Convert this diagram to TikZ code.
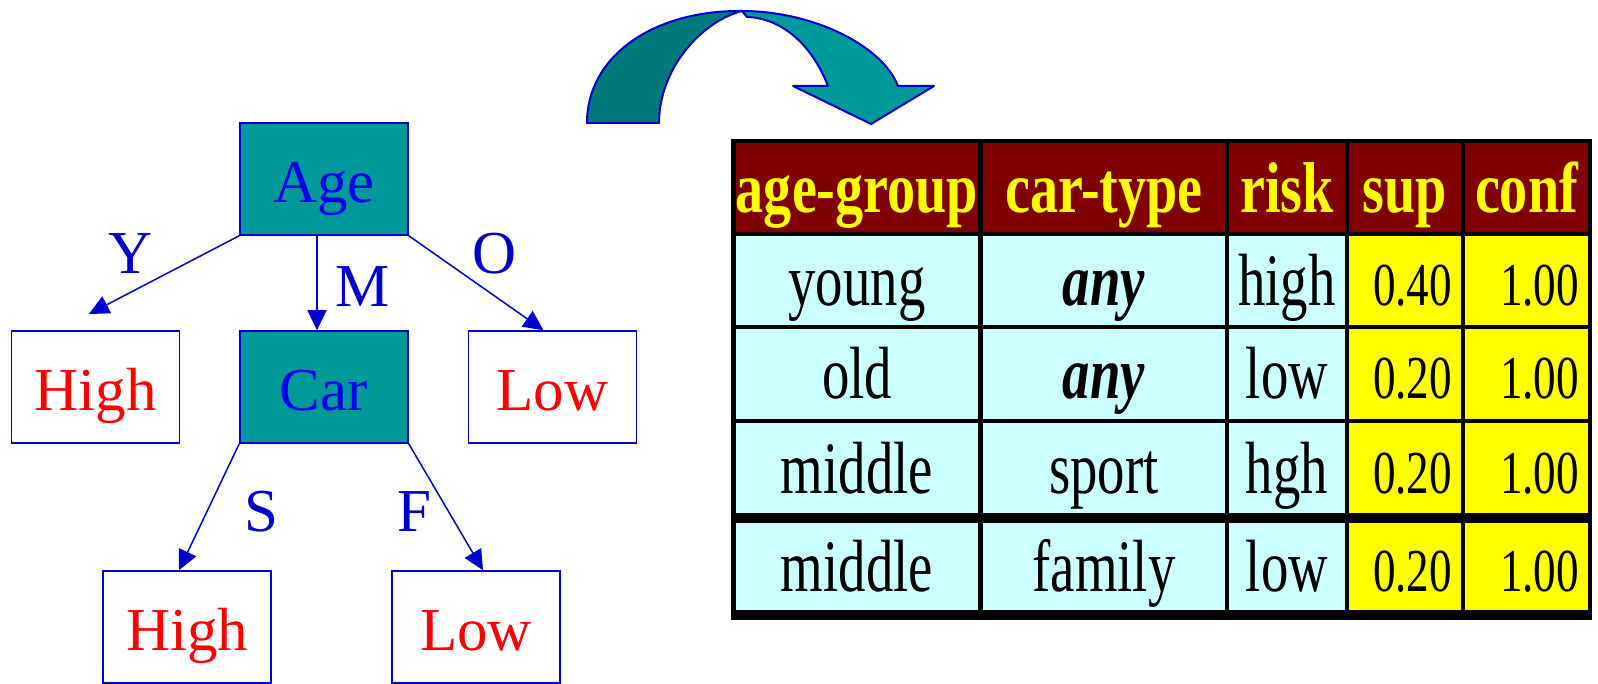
\documentclass[tikz,border=0pt]{standalone}
\usepackage{fontspec}
\setmainfont{Liberation Serif}
\newfontfamily\bodyfont[FakeStretch=0.74]{Liberation Serif}
\newfontfamily\hdrfont[FakeStretch=0.78]{Liberation Serif}
\usetikzlibrary{arrows.meta}
\definecolor{teallight}{RGB}{0,153,153}
\definecolor{tealdark}{RGB}{0,122,122}
\definecolor{tblue}{RGB}{0,0,204}
\definecolor{tblue2}{RGB}{0,0,235}
\definecolor{maroon}{RGB}{128,0,0}
\definecolor{lcyan}{RGB}{204,255,255}
\definecolor{yel}{RGB}{255,255,0}
\tikzset{
  box/.style={draw=tblue, line width=1.5pt, minimum width=168pt, minimum height=112pt,
    inner sep=0pt, text height=47pt, text depth=0pt, font=\fontsize{61}{61}\selectfont},
  dec/.style={box, fill=teallight, text=tblue2},
  leaf/.style={box, fill=white, text=red},
  edge/.style={draw=tblue, line width=1.5pt, -{Triangle[length=20pt,width=19pt]}},
  elab/.style={anchor=base, text=tblue, inner sep=0pt, font=\fontsize{61}{61}\selectfont},
  ribbon/.style={draw=tblue, line width=2pt, line join=round},
  tcell/.style={inner sep=0pt, outer sep=0pt, text height=50pt, text depth=0pt},
  hdr/.style={tcell, fill=maroon, text=yel, font=\hdrfont\bfseries\fontsize{72}{72}\selectfont},
  bdy/.style={tcell, fill=lcyan, font=\bodyfont\fontsize{74}{74}\selectfont},
  num/.style={tcell, fill=yel, font=\bodyfont\fontsize{61}{61}\selectfont, align=right, inner xsep=9pt},
  cw1/.style={minimum width=242pt}, cw2/.style={minimum width=242pt},
  cw3/.style={minimum width=116pt}, cw4/.style={text width=94pt}, cw5/.style={text width=105pt},
  rh0/.style={minimum height=89pt}, rh1/.style={minimum height=89pt},
  rh2/.style={minimum height=90pt}, rh3/.style={minimum height=90pt}, rh4/.style={minimum height=87pt},
}
\begin{document}
\begin{tikzpicture}[x=1pt,y=-1pt]
\useasboundingbox (0,0) rectangle (1598,684);
% curved arrow
\fill[tealdark] (587,123) .. controls (587,55) and (655,10) .. (742,11)
  .. controls (700,22) and (659,70) .. (659,123) -- cycle;
\draw[ribbon] (587,123) .. controls (587,55) and (655,10) .. (742,11)
  .. controls (700,22) and (659,70) .. (659,123) -- cycle;
\filldraw[ribbon, fill=teallight] (742,11) .. controls (812,11) and (882,45) .. (898,86)
  -- (934,86) -- (871,124) -- (793,86) -- (828,86)
  .. controls (812,45) and (782,18) .. (747,17) -- cycle;
% tree
\node[dec] (age) at (324,179) {Age};
\node[dec] (car) at (324,387) {Car};
\node[leaf] (high1) at (95.5,387) {High};
\node[leaf] (low1) at (552.5,387) {Low};
\node[leaf] (high2) at (187,627) {High};
\node[leaf] (low2) at (476,627) {Low};
\coordinate (yend) at (89,314);
\draw[edge] (age.south west) -- (yend);
\draw[edge] ([xshift=-7pt]age.south) -- ([xshift=-7pt]car.north);
\draw[edge] (age.south east) -- ([xshift=-9pt]low1.north);
\draw[edge] (car.south west) -- ([xshift=-8pt]high2.north);
\draw[edge] (car.south east) -- ([xshift=7pt]low2.north);
\node[elab] (ly) at (131,274) {Y};
\node[elab] (lm) at (363,307) {M};
\node[elab] (lo) at (495,274) {O};
\node[elab] (ls) at (261,531) {S};
\node[elab] (lf) at (414,531) {F};
% table
\fill[black] (731,139) rectangle (1592,620);
\node[hdr,cw1,rh0] (t01) at (857,187.5) {age-group};
\node[hdr,cw2,rh0] (t02) at (1104,187.5) {car-type};
\node[hdr,cw3,rh0] (t03) at (1287,187.5) {risk};
\node[hdr,rh0,minimum width=112pt] (t04) at (1405,187.5) {sup};
\node[hdr,rh0,minimum width=123pt] (t05) at (1526.5,187.5) {conf};
%
\node[bdy,cw1,rh1] (t11) at (857,280.5) {young};
\node[bdy,cw2,rh1] (t12) at (1104,280.5) {\bfseries\itshape any};
\node[bdy,cw3,rh1] (t13) at (1287,280.5) {high};
\node[num,cw4,rh1] (t14) at (1405,280.5) {0.40};
\node[num,cw5,rh1] (t15) at (1526.5,280.5) {1.00};
%
\node[bdy,cw1,rh2] (t21) at (857,374) {old};
\node[bdy,cw2,rh2] (t22) at (1104,374) {\bfseries\itshape any};
\node[bdy,cw3,rh2] (t23) at (1287,374) {low};
\node[num,cw4,rh2] (t24) at (1405,374) {0.20};
\node[num,cw5,rh2] (t25) at (1526.5,374) {1.00};
%
\node[bdy,cw1,rh3] (t31) at (857,468) {middle};
\node[bdy,cw2,rh3] (t32) at (1104,468) {sport};
\node[bdy,cw3,rh3] (t33) at (1287,468) {hgh};
\node[num,cw4,rh3] (t34) at (1405,468) {0.20};
\node[num,cw5,rh3] (t35) at (1526.5,468) {1.00};
%
\node[bdy,cw1,rh4] (t41) at (857,566.5) {middle};
\node[bdy,cw2,rh4] (t42) at (1104,566.5) {family};
\node[bdy,cw3,rh4] (t43) at (1287,566.5) {low};
\node[num,cw4,rh4] (t44) at (1405,566.5) {0.20};
\node[num,cw5,rh4] (t45) at (1526.5,566.5) {1.00};
\end{tikzpicture}
\end{document}
